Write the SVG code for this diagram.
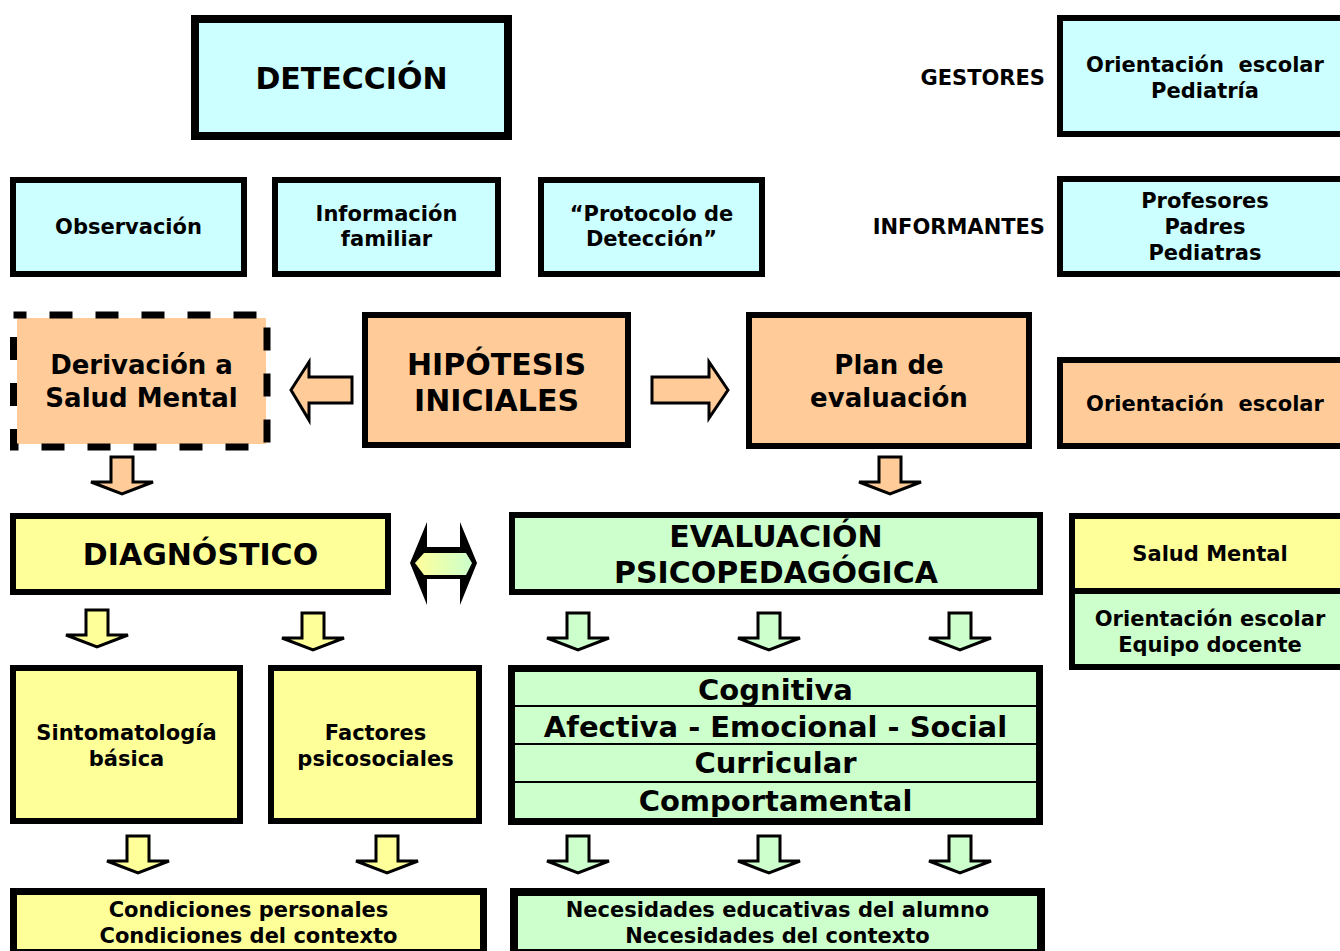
<svg xmlns="http://www.w3.org/2000/svg" width="1340" height="951" viewBox="0 0 1340 951">
<defs>
<style>
text{font-family:"DejaVu Sans",Verdana,sans-serif;font-weight:bold;fill:#000;text-anchor:middle}
.s21{font-size:21px}.s26{font-size:26px}.s29{font-size:29px}.s30{font-size:30px}
.box{stroke:#000;stroke-width:6}
.cy{fill:#CCFFFF}.or{fill:#FFCC99}.ye{fill:#FFFF99}.gr{fill:#CCFFCC}
.arr{stroke:#000;stroke-width:3;stroke-linejoin:miter}
.pre{white-space:pre}
</style>
<path id="down" d="M-11,0 H11 V25 H31 L0,37 L-31,25 H-11 Z"/>
<linearGradient id="yg" x1="0" x2="1" y1="0" y2="0">
<stop offset="0" stop-color="#FFFF99"/><stop offset="1" stop-color="#CCFFCC"/>
</linearGradient>
</defs>
<rect width="1340" height="951" fill="#FFFFFF"/>

<g id="deteccion">
<rect class="box cy" x="195" y="19" width="313" height="117" style="stroke-width:8"/>
<text class="s30" x="351.5" y="89">DETECCIÓN</text>
</g>

<g id="gestores-label"><text class="s21" x="1045" y="85" style="text-anchor:end">GESTORES</text></g>
<g id="gestores">
<rect class="box cy" x="1060" y="18" width="290" height="116"/>
<text class="s21 pre" x="1205" y="72">Orientación  escolar</text>
<text class="s21" x="1205" y="98">Pediatría</text>
</g>

<g id="observacion">
<rect class="box cy" x="13" y="180" width="231" height="94"/>
<text class="s21" x="128.5" y="234">Observación</text>
</g>
<g id="informacion">
<rect class="box cy" x="275" y="180" width="223" height="94"/>
<text class="s21" x="386.5" y="221">Información</text>
<text class="s21" x="386.5" y="246">familiar</text>
</g>
<g id="protocolo">
<rect class="box cy" x="541" y="180" width="221" height="94"/>
<text class="s21" x="651.5" y="221">“Protocolo de</text>
<text class="s21" x="651.5" y="246">Detección”</text>
</g>

<g id="informantes-label"><text class="s21" x="1045" y="234" style="text-anchor:end">INFORMANTES</text></g>
<g id="informantes">
<rect class="box cy" x="1060" y="179" width="290" height="95"/>
<text class="s21" x="1205" y="208">Profesores</text>
<text class="s21" x="1205" y="234">Padres</text>
<text class="s21" x="1205" y="260">Pediatras</text>
</g>

<g id="derivacion">
<rect class="or" x="17" y="318" width="249" height="126"/>
<rect x="13.5" y="315" width="253.5" height="132" fill="none" stroke="#000" stroke-width="7" stroke-dasharray="23 23" stroke-dashoffset="10"/>
<text class="s26" x="141.5" y="374">Derivación a</text>
<text class="s26" x="141.5" y="407">Salud Mental</text>
</g>

<g id="hipotesis">
<rect class="box or" x="365" y="315" width="263" height="130"/>
<text class="s30" x="496.5" y="375">HIPÓTESIS</text>
<text class="s30" x="496.5" y="411">INICIALES</text>
</g>

<g id="plan">
<rect class="box or" x="749" y="315" width="280" height="131"/>
<text class="s26" x="889" y="374">Plan de</text>
<text class="s26" x="889" y="407">evaluación</text>
</g>

<g id="orientacion-plan">
<rect class="box or" x="1060" y="360" width="290" height="86"/>
<text class="s21 pre" x="1205" y="411">Orientación  escolar</text>
</g>

<g id="diagnostico">
<rect class="box ye" x="13" y="516" width="375" height="76"/>
<text class="s30" x="200.5" y="565">DIAGNÓSTICO</text>
</g>

<g id="evaluacion">
<rect class="box gr" x="512" y="515" width="528" height="77"/>
<text class="s30" x="776" y="547">EVALUACIÓN</text>
<text class="s30" x="776" y="583">PSICOPEDAGÓGICA</text>
</g>

<g id="responsables">
<rect class="ye" x="1072" y="516" width="280" height="75"/>
<rect class="gr" x="1072" y="591" width="280" height="76"/>
<rect x="1072" y="516" width="280" height="151" fill="none" stroke="#000" stroke-width="6"/>
<line x1="1072" y1="591" x2="1352" y2="591" stroke="#000" stroke-width="6"/>
<text class="s21" x="1210" y="561">Salud Mental</text>
<text class="s21" x="1210" y="626">Orientación escolar</text>
<text class="s21" x="1210" y="652">Equipo docente</text>
</g>

<g id="sintomatologia">
<rect class="box ye" x="13" y="668" width="227" height="153"/>
<text class="s21" x="126.5" y="740">Sintomatología</text>
<text class="s21" x="126.5" y="766">básica</text>
</g>
<g id="factores">
<rect class="box ye" x="271" y="668" width="208" height="153"/>
<text class="s21" x="375.5" y="740">Factores</text>
<text class="s21" x="375.5" y="766">psicosociales</text>
</g>

<g id="areas">
<rect class="gr" x="511.5" y="668.5" width="528" height="153" stroke="#000" stroke-width="7"/>
<line x1="512" y1="706" x2="1039" y2="706" stroke="#000" stroke-width="2"/>
<line x1="512" y1="744" x2="1039" y2="744" stroke="#000" stroke-width="2"/>
<line x1="512" y1="782" x2="1039" y2="782" stroke="#000" stroke-width="2"/>
<text class="s29" x="775.5" y="700">Cognitiva</text>
<text class="s29" x="775.5" y="737">Afectiva - Emocional - Social</text>
<text class="s29" x="775.5" y="773">Curricular</text>
<text class="s29" x="775.5" y="811">Comportamental</text>
</g>

<g id="condiciones">
<rect class="ye" x="13.5" y="891.5" width="470" height="61" stroke="#000" stroke-width="7"/>
<text class="s21" x="248.5" y="917">Condiciones personales</text>
<text class="s21" x="248.5" y="943">Condiciones del contexto</text>
</g>

<g id="necesidades">
<rect class="gr" x="514" y="892" width="527" height="61" stroke="#000" stroke-width="8"/>
<text class="s21" x="777.5" y="917">Necesidades educativas del alumno</text>
<text class="s21" x="777.5" y="943">Necesidades del contexto</text>
</g>

<g id="connectors">
<path class="arr or" d="M291,390 L309,362 V377 H352 V403 H309 V420 Z"/>
<path class="arr or" d="M728,390 L709,362 V377 H652 V403 H709 V418 Z"/>
<use href="#down" class="arr or" x="122" y="457"/>
<use href="#down" class="arr or" x="890" y="457"/>
<path d="M410,563 L427,522 V547 H460 V522 L477,563 L460,605 V579 H427 V605 Z" fill="#000"/>
<path d="M415,563 L424,553 H466 L472,563 L466,575 H424 Z" fill="url(#yg)"/>
<use href="#down" class="arr ye" x="97" y="610"/>
<use href="#down" class="arr ye" x="313" y="613"/>
<use href="#down" class="arr gr" x="578" y="613"/>
<use href="#down" class="arr gr" x="769" y="613"/>
<use href="#down" class="arr gr" x="960" y="613"/>
<use href="#down" class="arr ye" x="138" y="836"/>
<use href="#down" class="arr ye" x="387" y="836"/>
<use href="#down" class="arr gr" x="578" y="836"/>
<use href="#down" class="arr gr" x="769" y="836"/>
<use href="#down" class="arr gr" x="960" y="836"/>
</g>
</svg>
